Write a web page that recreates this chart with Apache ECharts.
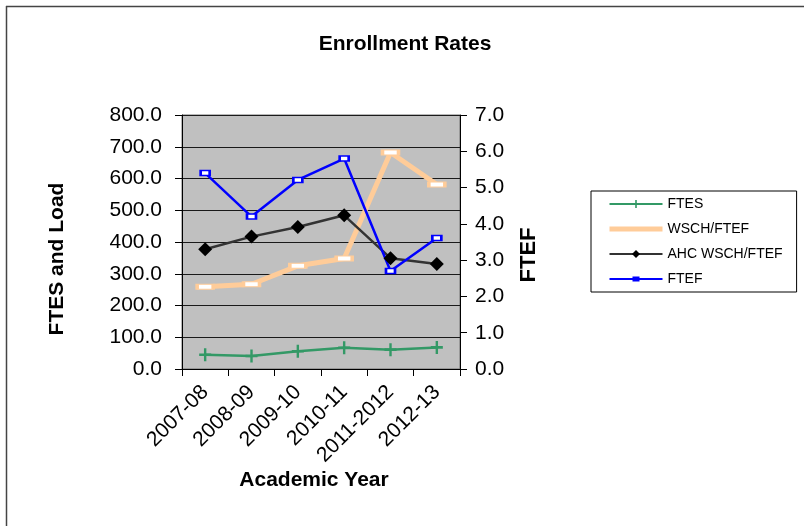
<!DOCTYPE html>
<html>
<head>
<meta charset="utf-8">
<script src="https://cdn.jsdelivr.net/npm/echarts@6/dist/echarts.min.js"></script>
<style>
  html, body { margin: 0; padding: 0; background: #fff; }
  #chart { width: 804px; height: 526px; }
</style>
</head>
<body>
<div id="chart"></div>
<script>
// academic years on the x axis
const years = ['2007-08', '2008-09', '2009-10', '2010-11', '2011-2012', '2012-13']

// left axis (FTES and Load)
const ftes = [45, 41, 56, 67, 61, 68]
const wschFtef = [259, 267, 325, 348, 682, 581]
const ahcWschFtef = [377, 417, 447, 484, 349, 331]

// right axis (FTEF)
const ftef = [5.40, 4.20, 5.21, 5.80, 2.70, 3.61]

const font = 'Liberation Sans, Arial, sans-serif'
const plus = 'path://M4,0H6V4H10V6H6V10H4V6H0V4H4Z'
// legend icon for FTEF: thin line with small block in the middle
const lineRect = 'path://M0,0L0.01,0L0,0.01Z M53,10L52.99,10L53,9.99Z M0,4H53V6H0Z M23,2.5H30V7.5H23Z'

const chart = echarts.init(document.getElementById('chart'))

chart.setOption({
  animation: false,
  textStyle: { fontFamily: font },
  grid: {
    left: 182,
    right: 344,
    top: 115,
    bottom: 157,
    show: true,
    backgroundColor: '#C0C0C0',
    borderColor: '#707070',
    borderWidth: 1
  },
  legend: {
    orient: 'vertical',
    left: 591,
    top: 191,
    padding: [6, 14, 6, 16],
    itemGap: 11,
    itemWidth: 53,
    itemHeight: 10,
    borderColor: '#000',
    borderWidth: 1,
    textStyle: { fontFamily: font, fontSize: 14, color: '#000' },
    data: [
      'FTES',
      { name: 'WSCH/FTEF', itemStyle: { opacity: 0 }, lineStyle: { width: 5 } },
      'AHC WSCH/FTEF',
      { name: 'FTEF', icon: lineRect, itemStyle: { color: '#0000FF', borderWidth: 0 } }
    ]
  },
  graphic: [
    { type: 'line', shape: { x1: 6, y1: 6.5, x2: 804, y2: 6.5 }, style: { stroke: '#444', lineWidth: 1.5 } },
    { type: 'line', shape: { x1: 6.5, y1: 6, x2: 6.5, y2: 526 }, style: { stroke: '#444', lineWidth: 1.5 } },
    {
      type: 'text', x: 405, y: 44,
      style: { text: 'Enrollment Rates', font: 'bold 21px ' + font, fill: '#000', align: 'center', verticalAlign: 'middle' }
    },
    {
      type: 'text', x: 57, y: 259, rotation: Math.PI / 2,
      style: { text: 'FTES and Load', font: 'bold 21px ' + font, fill: '#000', align: 'center', verticalAlign: 'middle' }
    },
    {
      type: 'text', x: 529, y: 255, rotation: Math.PI / 2,
      style: { text: 'FTEF', font: 'bold 22px ' + font, fill: '#000', align: 'center', verticalAlign: 'middle' }
    },
    {
      type: 'text', x: 314, y: 480,
      style: { text: 'Academic Year', font: 'bold 21px ' + font, fill: '#000', align: 'center', verticalAlign: 'middle' }
    }
  ],
  xAxis: {
    type: 'category',
    data: years,
    boundaryGap: true,
    axisLine: { lineStyle: { color: '#000', width: 1 } },
    axisTick: { show: true, length: 7, lineStyle: { color: '#000' } },
    axisLabel: { rotate: 45, fontSize: 21, color: '#000', margin: 20, interval: 0 }
  },
  yAxis: [{
    type: 'value',
    min: 0,
    max: 800,
    interval: 100,
    axisLine: { show: true, lineStyle: { color: '#000' } },
    axisTick: { show: true, length: 7, lineStyle: { color: '#000' } },
    axisLabel: { fontSize: 21, color: '#000', margin: 20, formatter: v => v.toFixed(1) },
    splitLine: { lineStyle: { color: '#1a1a1a', width: 1 } }
  }, {
    type: 'value',
    min: 0,
    max: 7,
    interval: 1,
    position: 'right',
    axisLine: { show: true, lineStyle: { color: '#000' } },
    axisTick: { show: true, length: 7, lineStyle: { color: '#000' } },
    axisLabel: { fontSize: 21, color: '#000', margin: 15, formatter: v => v.toFixed(1) },
    splitLine: { show: false }
  }],
  series: [{
    name: 'FTES',
    type: 'line',
    data: ftes,
    symbol: plus,
    symbolSize: [12, 13],
    lineStyle: { color: '#339966', width: 2.5 },
    itemStyle: { color: '#339966' }
  }, {
    name: 'WSCH/FTEF',
    type: 'line',
    data: wschFtef,
    symbol: 'emptyRect',
    symbolSize: [16, 5],
    lineStyle: { color: '#FFCC99', width: 5 },
    itemStyle: { color: '#FFCC99', borderWidth: 2 }
  }, {
    name: 'AHC WSCH/FTEF',
    type: 'line',
    data: ahcWschFtef,
    symbol: 'diamond',
    symbolSize: 14,
    lineStyle: { color: '#333333', width: 2.5 },
    itemStyle: { color: '#000' }
  }, {
    name: 'FTEF',
    type: 'line',
    yAxisIndex: 1,
    data: ftef,
    symbol: 'emptyRect',
    symbolSize: [9, 5],
    lineStyle: { color: '#0000FF', width: 2.5 },
    itemStyle: { color: '#0000FF', borderWidth: 1.5 }
  }]
})
</script>
</body>
</html>
